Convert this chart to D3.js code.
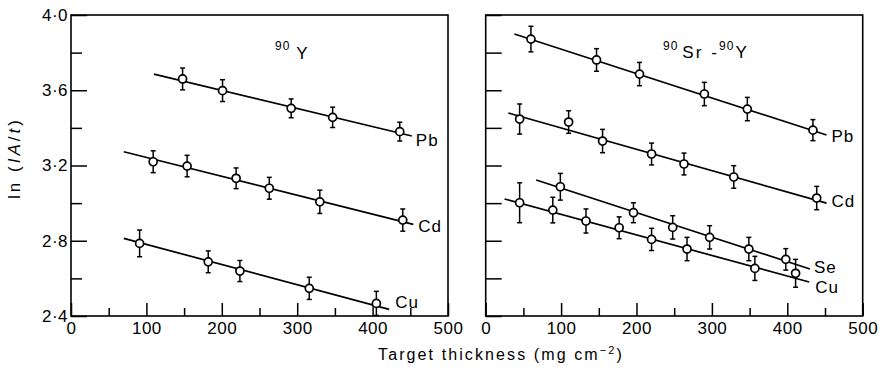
<!DOCTYPE html>
<html><head><meta charset="utf-8">
<script src="https://cdn.jsdelivr.net/npm/d3@7"></script>
<style>
body{margin:0;background:#fff}
svg{display:block}
text{font-family:"Liberation Sans",Arial,sans-serif;fill:#000}
</style>
</head><body><svg id="c" width="887" height="372"></svg>
<script>
// ---------- data ----------
const yMajorTicks = [2.4, 2.8, 3.2, 3.6, 4.0];
const yMinorTicks = [2.6, 3.0, 3.4, 3.8];
const xMajorTicks = [0, 100, 200, 300, 400, 500];
const xMinorTicks = [50, 150, 250, 350, 450];

// Left panel (90Y)
const leftPbX = [148, 201, 292, 347, 436];
const leftPbY = [3.660, 3.598, 3.504, 3.456, 3.380];
const leftPbE = [0.058, 0.058, 0.050, 0.054, 0.050];
const leftPbLine = [[110, 3.686], [452, 3.357]];

const leftCdX = [109, 154, 219, 263, 330, 440];
const leftCdY = [3.220, 3.197, 3.132, 3.079, 3.007, 2.910];
const leftCdE = [0.058, 0.057, 0.055, 0.058, 0.062, 0.059];
const leftCdLine = [[70, 3.273], [454, 2.887]];

const leftCuX = [91, 182, 224, 316, 405];
const leftCuY = [2.786, 2.688, 2.639, 2.547, 2.467];
const leftCuE = [0.071, 0.058, 0.056, 0.059, 0.064];
const leftCuLine = [[70, 2.813], [422, 2.435]];

// Right panel (90Sr-90Y)
const rightPbX = [60, 147, 204, 290, 347, 434];
const rightPbY = [3.872, 3.761, 3.686, 3.580, 3.500, 3.388];
const rightPbE = [0.068, 0.060, 0.062, 0.062, 0.062, 0.056];
const rightPbLine = [[38, 3.899], [452, 3.362]];

const rightCdX = [45, 110, 155, 220, 263, 329, 439];
const rightCdY = [3.447, 3.431, 3.330, 3.261, 3.208, 3.139, 3.027];
const rightCdE = [0.080, 0.060, 0.062, 0.058, 0.058, 0.060, 0.062];
const rightCdLine = [[30, 3.479], [452, 3.000]];

const rightSeX = [99, 196, 248, 297, 349, 398];
const rightSeY = [3.087, 2.949, 2.871, 2.818, 2.756, 2.701];
const rightSeE = [0.071, 0.053, 0.062, 0.062, 0.062, 0.057];
const rightSeLine = [[67, 3.123], [430, 2.650]];

const rightCuX = [45, 89, 133, 177, 220, 267, 357, 411];
const rightCuY = [3.002, 2.963, 2.905, 2.869, 2.807, 2.756, 2.653, 2.627];
const rightCuE = [0.106, 0.068, 0.064, 0.058, 0.059, 0.062, 0.064, 0.074];
const rightCuLine = [[25, 3.022], [429, 2.581]];

// ---------- drawing ----------
const svg = d3.select("#c");
const fmt = v => d3.format(".1f")(v).replace(".", "·");

const yScale = d3.scaleLinear().domain([2.4, 4.0]).range([316, 15]);

const panels = [
  {x0: 71, x1: 448, labels: true,
   series: [
     {name: "Pb", X: leftPbX, Y: leftPbY, E: leftPbE, L: leftPbLine, dx: 4, dy: 10},
     {name: "Cd", X: leftCdX, Y: leftCdY, E: leftCdE, L: leftCdLine, dx: 5, dy: 8},
     {name: "Cu", X: leftCuX, Y: leftCuY, E: leftCuE, L: leftCuLine, dx: 6, dy: -1}
   ]},
  {x0: 485.7, x1: 862.7, labels: false,
   series: [
     {name: "Pb", X: rightPbX, Y: rightPbY, E: rightPbE, L: rightPbLine, dx: 5, dy: 7},
     {name: "Cd", X: rightCdX, Y: rightCdY, E: rightCdE, L: rightCdLine, dx: 5, dy: 4},
     {name: "Se", X: rightSeX, Y: rightSeY, E: rightSeE, L: rightSeLine, dx: 4, dy: 4},
     {name: "Cu", X: rightCuX, Y: rightCuY, E: rightCuE, L: rightCuLine, dx: 6, dy: 11}
   ]}
];

panels.forEach(p => {
  const xScale = d3.scaleLinear().domain([0, 500]).range([p.x0, p.x1]);
  const g = svg.append("g");

  // frame
  g.append("rect").attr("x", p.x0).attr("y", yScale(4.0))
    .attr("width", p.x1 - p.x0).attr("height", yScale(2.4) - yScale(4.0))
    .attr("fill", "none").attr("stroke", "#000").attr("stroke-width", 1.6);

  // y axis
  const yMaj = d3.axisLeft(yScale).tickValues(yMajorTicks).tickSizeInner(-16).tickSizeOuter(0)
    .tickPadding(3).tickFormat(p.labels ? fmt : () => "");
  const yMin = d3.axisLeft(yScale).tickValues(yMinorTicks).tickSizeInner(p.labels ? -11 : -16).tickSizeOuter(0)
    .tickFormat(() => "");
  [yMaj, yMin].forEach(ax => {
    const a = g.append("g").attr("transform", `translate(${p.x0},0)`).call(ax);
    a.select(".domain").remove();
    a.selectAll("line").attr("stroke", "#000").attr("stroke-width", 1.5);
    a.selectAll("text").attr("font-size", 17).attr("fill", "#000").attr("letter-spacing", 0.5);
  });

  // x axis
  const xMaj = d3.axisBottom(xScale).tickValues(xMajorTicks).tickSizeInner(-13).tickSizeOuter(0)
    .tickPadding(6).tickFormat(d3.format("d"));
  const xMin = d3.axisBottom(xScale).tickValues(xMinorTicks).tickSizeInner(-8).tickSizeOuter(0)
    .tickFormat(() => "");
  [xMaj, xMin].forEach(ax => {
    const a = g.append("g").attr("transform", `translate(0,${yScale(2.4)})`).call(ax);
    a.select(".domain").remove();
    a.selectAll("line").attr("stroke", "#000").attr("stroke-width", 1.5);
    a.selectAll("text").attr("font-size", 17).attr("fill", "#000").attr("letter-spacing", 0.5);
  });

  p.series.forEach(s => {
    // fitted line
    g.append("line")
      .attr("x1", xScale(s.L[0][0])).attr("y1", yScale(s.L[0][1]))
      .attr("x2", xScale(s.L[1][0])).attr("y2", yScale(s.L[1][1]))
      .attr("stroke", "#000").attr("stroke-width", 1.7);

    const pts = s.X.map((x, i) => ({x, y: s.Y[i], e: s.E[i]}));
    // error bars
    const eb = g.append("g").attr("stroke", "#000").attr("stroke-width", 1.5);
    pts.forEach(d => {
      const cx = xScale(d.x), yt = yScale(d.y + d.e), yb = yScale(d.y - d.e);
      eb.append("line").attr("x1", cx).attr("x2", cx).attr("y1", yt).attr("y2", yb);
      eb.append("line").attr("x1", cx - 2.5).attr("x2", cx + 2.5).attr("y1", yt).attr("y2", yt);
      eb.append("line").attr("x1", cx - 2.5).attr("x2", cx + 2.5).attr("y1", yb).attr("y2", yb);
    });
    // markers
    g.selectAll(null).data(pts).enter().append("circle")
      .attr("cx", d => xScale(d.x)).attr("cy", d => yScale(d.y)).attr("r", 4)
      .attr("fill", "#fff").attr("stroke", "#000").attr("stroke-width", 1.7);

    // label
    g.append("text")
      .attr("x", xScale(s.L[1][0]) + s.dx).attr("y", yScale(s.L[1][1]) + s.dy)
      .attr("font-size", 17).attr("letter-spacing", 1).text(s.name);
  });
});

// panel titles
const t1 = svg.append("text").attr("x", 275).attr("y", 59).attr("font-size", 17);
t1.append("tspan").attr("font-size", 12).attr("dy", -9).attr("letter-spacing", 1).text("90");
t1.append("tspan").attr("dy", 9).attr("dx", 6).text("Y");

const t2 = svg.append("text").attr("x", 663).attr("y", 58).attr("font-size", 17);
t2.append("tspan").attr("font-size", 12).attr("dy", -8).attr("letter-spacing", 1).text("90");
t2.append("tspan").attr("dy", 8).attr("dx", 4).attr("letter-spacing", 2).text("Sr");
t2.append("tspan").attr("dx", 8).text("-");
t2.append("tspan").attr("font-size", 12).attr("dy", -8).attr("dx", 2).attr("letter-spacing", 1).text("90");
t2.append("tspan").attr("dy", 8).attr("dx", 1).text("Y");

// axis labels
const xl = svg.append("text").attr("x", 501).attr("y", 360).attr("text-anchor", "middle")
  .attr("font-size", 16).attr("letter-spacing", 2.1);
xl.append("tspan").text("Target thickness (mg cm");
xl.append("tspan").attr("font-size", 11).attr("dy", -6).text("−2");
xl.append("tspan").attr("dy", 6).text(")");

const yl = svg.append("text").attr("transform", "translate(20,158) rotate(-90)")
  .attr("text-anchor", "middle").attr("font-size", 17).attr("letter-spacing", 3);
yl.append("tspan").text("ln (");
yl.append("tspan").attr("font-style", "italic").text("IA");
yl.append("tspan").text("/");
yl.append("tspan").attr("font-style", "italic").text("t");
yl.append("tspan").text(")");
</script>
</body></html>
